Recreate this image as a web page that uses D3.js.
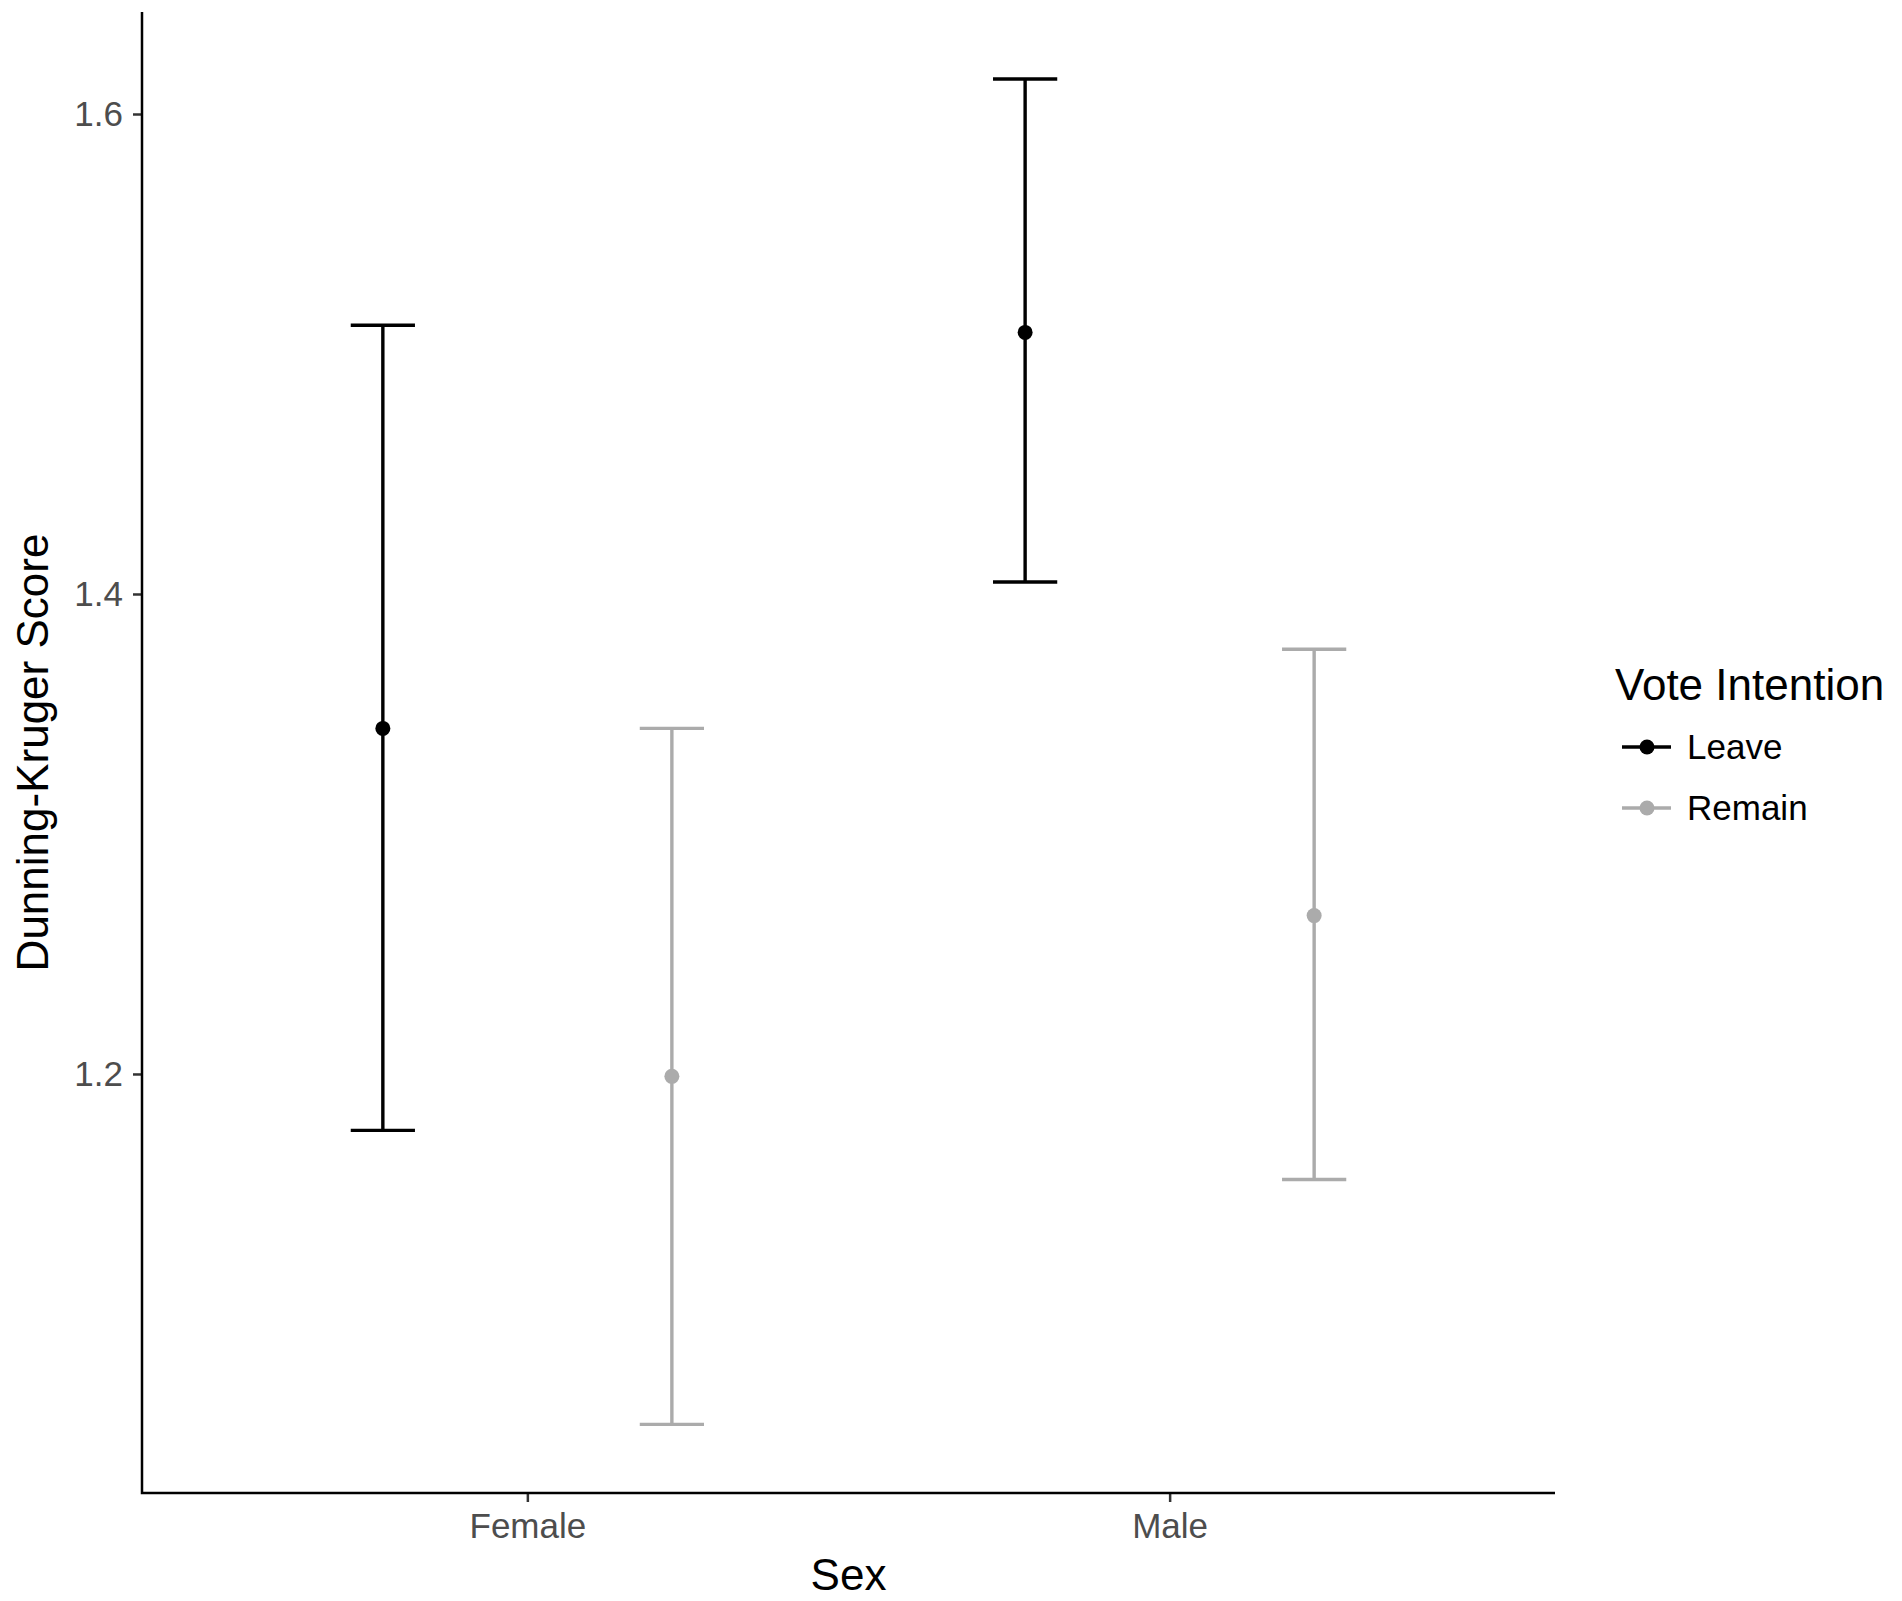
<!DOCTYPE html>
<html>
<head>
<meta charset="utf-8">
<script src="https://cdn.jsdelivr.net/npm/d3@7"></script>
<style>
  body { margin: 0; background: #fff; }
  text { font-family: "Liberation Sans", Arial, sans-serif; }
</style>
</head>
<body>
<script>
'use strict';

// data
var sexes = ['Female', 'Male'];
var votes = ['Leave', 'Remain'];
var voteColors = ['#000000', '#ababab'];
var means = [[1.344, 1.509], [1.199, 1.266]];   // [vote][sex]
var lower = [[1.1765, 1.405], [1.054, 1.156]];
var upper = [[1.512, 1.6146], [1.344, 1.377]];
var yTicks = [1.2, 1.4, 1.6];

build();

function build() {
  var width = 1902,
    height = 1601,
    panelLeft = 142,
    panelRight = 1555,
    panelTop = 12,
    panelBottom = 1493;

  var svg = d3.select('body').append('svg')
    .attr('width', width)
    .attr('height', height);

  var x = d3.scalePoint().domain(sexes).range([panelLeft, panelRight]).padding(0.6);
  var step = x.step();
  var dodge = d3.scalePoint().domain(votes).range([-0.225 * step, 0.225 * step]);
  var y = d3.scaleLinear().domain([1.0254, 1.6425]).range([panelBottom, panelTop]);
  var color = d3.scaleOrdinal().domain(votes).range(voteColors);

  // axes
  var yAxis = svg.append('g')
    .attr('transform', 'translate(' + panelLeft + ',0)')
    .call(d3.axisLeft(y).tickValues(yTicks).tickFormat(d3.format('.1f')).tickSize(9).tickPadding(10));
  var xAxis = svg.append('g')
    .attr('transform', 'translate(0,' + panelBottom + ')')
    .call(d3.axisBottom(x).tickSize(9).tickPadding(8));

  [yAxis, xAxis].forEach(function(a) {
    a.select('.domain').remove();
    a.selectAll('.tick line').attr('stroke', '#333333').attr('stroke-width', 2.5);
    a.selectAll('.tick text')
      .attr('fill', '#4d4d4d')
      .style('font-size', '35px')
      .style('font-family', '"Liberation Sans", Arial, sans-serif');
  });
  xAxis.selectAll('.tick text').attr('dy', '0.79em');

  svg.append('path')
    .attr('d', 'M' + panelLeft + ',' + panelTop + 'V' + panelBottom + 'H' + panelRight)
    .attr('fill', 'none')
    .attr('stroke', '#000')
    .attr('stroke-width', 2.5);

  // error bars and points
  var rows = [];
  votes.forEach(function(v, vi) {
    sexes.forEach(function(s, si) {
      rows.push({ vote: v, sex: s, mean: means[vi][si], lo: lower[vi][si], hi: upper[vi][si] });
    });
  });

  var capHalf = 0.05 * step;
  var bars = svg.append('g').selectAll('g').data(rows).enter().append('g')
    .attr('transform', function(d) { return 'translate(' + (x(d.sex) + dodge(d.vote)) + ',0)'; })
    .attr('stroke', function(d) { return color(d.vote); })
    .attr('fill', function(d) { return color(d.vote); });

  bars.append('line')
    .attr('y1', function(d) { return y(d.lo); })
    .attr('y2', function(d) { return y(d.hi); })
    .attr('stroke-width', 3.4);
  bars.append('line')
    .attr('x1', -capHalf).attr('x2', capHalf)
    .attr('y1', function(d) { return y(d.hi); })
    .attr('y2', function(d) { return y(d.hi); })
    .attr('stroke-width', 3.4);
  bars.append('line')
    .attr('x1', -capHalf).attr('x2', capHalf)
    .attr('y1', function(d) { return y(d.lo); })
    .attr('y2', function(d) { return y(d.lo); })
    .attr('stroke-width', 3.4);
  bars.append('circle')
    .attr('cy', function(d) { return y(d.mean); })
    .attr('r', 7.5)
    .attr('stroke', 'none');

  // axis titles
  svg.append('text')
    .attr('x', (panelLeft + panelRight) / 2)
    .attr('y', 1590)
    .attr('text-anchor', 'middle')
    .style('font-size', '44px')
    .text('Sex');
  svg.append('text')
    .attr('transform', 'translate(48,' + ((panelTop + panelBottom) / 2) + ') rotate(-90)')
    .attr('text-anchor', 'middle')
    .style('font-size', '44px')
    .text('Dunning-Kruger Score');

  // legend
  var legend = svg.append('g').attr('transform', 'translate(1615,0)');
  legend.append('text')
    .attr('x', 0).attr('y', 700)
    .style('font-size', '44px')
    .text('Vote Intention');
  var keys = legend.selectAll('g.key').data(votes).enter().append('g')
    .attr('class', 'key')
    .attr('transform', function(d, i) { return 'translate(0,' + (747 + i * 61) + ')'; });
  keys.append('line')
    .attr('x1', 7).attr('x2', 56)
    .attr('stroke', function(d) { return color(d); })
    .attr('stroke-width', 3.4);
  keys.append('circle')
    .attr('cx', 32).attr('r', 7.5)
    .attr('fill', function(d) { return color(d); });
  keys.append('text')
    .attr('x', 72).attr('y', 12)
    .style('font-size', '35px')
    .text(function(d) { return d; });
}
</script>
</body>
</html>
